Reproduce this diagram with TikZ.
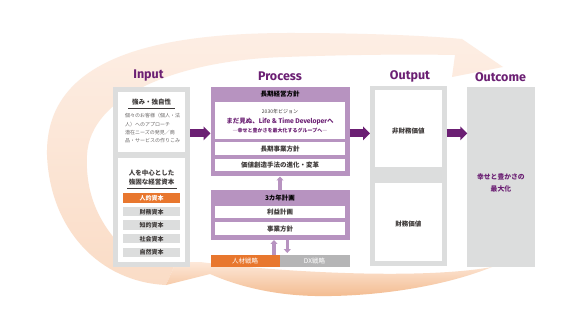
\documentclass[tikz,border=0pt]{standalone}
\usepackage{fontspec}
\newfontfamily\jp{Noto Sans CJK JP}
\newfontfamily\ttl{Fira Sans}
\usetikzlibrary{arrows.meta}
\definecolor{dpurple}{HTML}{6B1F73}
\definecolor{lpurple}{HTML}{B793C0}
\definecolor{boxgray}{HTML}{DCDDDD}
\definecolor{orng}{HTML}{E8772E}
\definecolor{dxgray}{HTML}{B5B5B6}
\definecolor{txt}{HTML}{3E3A39}
\definecolor{txtl}{HTML}{6A6767}
\definecolor{swA}{HTML}{FDEEE4}
\definecolor{swB}{HTML}{FADCC6}
\definecolor{swC}{HTML}{FDE8D9}
\definecolor{swD}{HTML}{F3BB8F}
\begin{document}
\begin{tikzpicture}[x=1pt,y=-1pt,
  plainbox/.style={inner sep=0pt,outer sep=0pt,draw=none},
  jpb/.style={font=\jp\bfseries\fontsize{6.5}{7}\selectfont,text=txt},
  jpsmall/.style={font=\jp\fontsize{5}{6}\selectfont,text=txtl,anchor=west,inner sep=0pt},
  ttlstyle/.style={font=\ttl\bfseries\fontsize{12.5}{14}\selectfont,text=dpurple},
  caprow/.style={plainbox,fill=boxgray,minimum width=57pt,minimum height=9.5pt,
     font=\jp\bfseries\fontsize{6}{6.5}\selectfont,text=txt},
  bigarrow/.style={dpurple,line width=8pt,-{Triangle[length=7pt,width=13.5pt]}},
  smallarrow/.style={lpurple,line width=3.2pt,-{Triangle[length=4pt,width=7pt]}},
  underl/.style={txt,line width=0.6pt}
]
\useasboundingbox (0,0) rectangle (585,328);
\fill[white] (0,0) rectangle (585,328);

% ---- swooshes ----
\shade[top color=swA,bottom color=swB]
  (166,285) .. controls (100,282) and (50,230) .. (47,155)
  .. controls (45,60) and (150,33) .. (290,33)
  .. controls (370,33) and (430,36) .. (462,39)
  -- (503,67) -- (452,77) -- (455,55)
  .. controls (400,54) and (340,55) .. (285,57)
  .. controls (180,60) and (90,95) .. (87,155)
  .. controls (85,195) and (100,225) .. (125,250)
  -- (176,262) -- cycle;
\shade[top color=swC,bottom color=swD]
  (166,285) -- (176,262) -- (200,262)
  .. controls (280,272) and (420,280) .. (492,267)
  .. controls (440,288) and (370,297) .. (315,296)
  .. controls (270,295) and (235,285) .. (210,274) -- cycle;

% ---- titles ----
\node[ttlstyle] (tin) at (148.5,76) {Input};
\node[ttlstyle] (tpr) at (280,76.7) {Process};
\node[ttlstyle] (tou) at (410,76.7) {Output};
\node[ttlstyle] (toc) at (500.5,76.7) {Outcome};

% ---- Input ----
\node[plainbox,fill=boxgray,minimum width=77pt,minimum height=179pt] (input) at (151.5,177) {};
\node[plainbox,fill=white,minimum width=67pt,minimum height=59.5pt] (in1) at (151.5,122.25) {};
\node[plainbox,fill=white,minimum width=67pt,minimum height=103pt] (in2) at (151.5,210) {};
\node[jpb] (s1) at (151.5,102.3) {強み・独自性};
\draw[underl] (128,108) -- (175,108);
\node[jpsmall] (b1) at (125,116) {個々のお客様（個人・法};
\node[jpsmall] (b2) at (125,124.3) {人）へのアプローチ};
\node[jpsmall] (b3) at (125,132.3) {潜在ニーズの発見／商};
\node[jpsmall] (b4) at (125,140.7) {品・サービスの作りこみ};
\node[jpb] (s2a) at (151.5,172.7) {人を中心とした};
\node[jpb] (s2b) at (151.5,181.7) {強固な経営資本};
\draw[underl] (127,188.3) -- (177,188.3);
\node[caprow,fill=orng,text=white] (c1) at (151.5,198.25) {人的資本};
\node[caprow] (c2) at (151.5,211.75) {財務資本};
\node[caprow] (c3) at (151.5,225.25) {知的資本};
\node[caprow] (c4) at (151.5,238.75) {社会資本};
\node[caprow] (c5) at (151.5,252.25) {自然資本};

% ---- Process ----
\node[plainbox,fill=lpurple,minimum width=139pt,minimum height=89.5pt] (p1) at (280,131.75) {};
\node[jpb,text=black] (p1h) at (280,94.5) {長期経営方針};
\node[plainbox,fill=white,minimum width=130pt,minimum height=36.5pt] (pw1) at (280,120.75) {};
\node[font=\jp\fontsize{5}{6}\selectfont,text=txt,inner sep=0pt] (v1) at (280,111.5) {2030年ビジョン};
\node[font=\jp\bfseries\fontsize{6.5}{7}\selectfont,text=dpurple,inner sep=0pt] (v2) at (280,121.5)
   {まだ見ぬ、{\ttl\bfseries\fontsize{6.8}{7}\selectfont Life \& Time Developer}へ};
\node[font=\jp\bfseries\fontsize{5}{6}\selectfont,text=dpurple,inner sep=0pt] (v3) at (280,130.5)
   {―幸せと豊かさを最大化するグループへ―};
\node[plainbox,fill=white,minimum width=130pt,minimum height=12.5pt,jpb] (pw2) at (280,148.75) {長期事業方針};
\node[plainbox,fill=white,minimum width=130pt,minimum height=12.5pt,jpb] (pw3) at (280,165.25) {価値創造手法の進化・変革};

\node[plainbox,fill=lpurple,minimum width=139pt,minimum height=50pt] (p2) at (280,215) {};
\node[jpb,text=black] (p2h) at (280,198.3) {3カ年計画};
\node[plainbox,fill=white,minimum width=130pt,minimum height=12.6pt,jpb] (pb1) at (280,212) {利益計画};
\node[plainbox,fill=white,minimum width=130pt,minimum height=12.7pt,jpb] (pb2) at (280,228.65) {事業方針};

\node[plainbox,fill=orng,minimum width=69pt,minimum height=11.5pt,
   font=\jp\fontsize{6.5}{7}\selectfont,text=white] (hr) at (245,260.75) {人材戦略};
\node[plainbox,fill=dxgray,minimum width=70pt,minimum height=11.5pt,
   font=\jp\fontsize{6.5}{7}\selectfont,text=white] (dx) at (314.5,260.75) {DX戦略};

\draw[smallarrow] (p2.north) -- (p1.south);
\coordinate (u1) at (274,255);
\coordinate (d1) at (287.3,253);
\draw[smallarrow] (u1) -- (u1 |- p2.south);
\draw[smallarrow] (d1 |- p2.south) -- (d1);

% ---- Output ----
\node[plainbox,fill=boxgray,minimum width=76.7pt,minimum height=179pt] (out) at (408.35,176) {};
\node[plainbox,fill=white,minimum width=66.7pt,minimum height=77pt,jpb] (o1) at (408.35,129) {};
\node[plainbox,fill=white,minimum width=66.7pt,minimum height=77.5pt,jpb] (o2) at (408.35,221.75) {};
\node[jpb] (o1t) at (408.35,130.7) {非財務価値};
\node[jpb] (o2t) at (408.35,224) {財務価値};

% ---- Outcome ----
\node[plainbox,fill=boxgray,minimum width=67.2pt,minimum height=179.8pt] (oc) at (500.9,176.6) {};
\node[font=\jp\bfseries\fontsize{6.8}{7}\selectfont,text=dpurple] (oct1) at (500.9,177.3) {幸せと豊かさの};
\node[font=\jp\bfseries\fontsize{6.8}{7}\selectfont,text=dpurple] (oct2) at (500.9,189.3) {最大化};

% ---- main arrows ----
\coordinate (ay) at (0,133.3);
\draw[bigarrow] (input.east |- ay) -- (p1.west |- ay);
\draw[bigarrow] (p1.east |- ay) -- (out.west |- ay);
\draw[bigarrow] (out.east |- ay) -- (oc.west |- ay);
\end{tikzpicture}
\end{document}
